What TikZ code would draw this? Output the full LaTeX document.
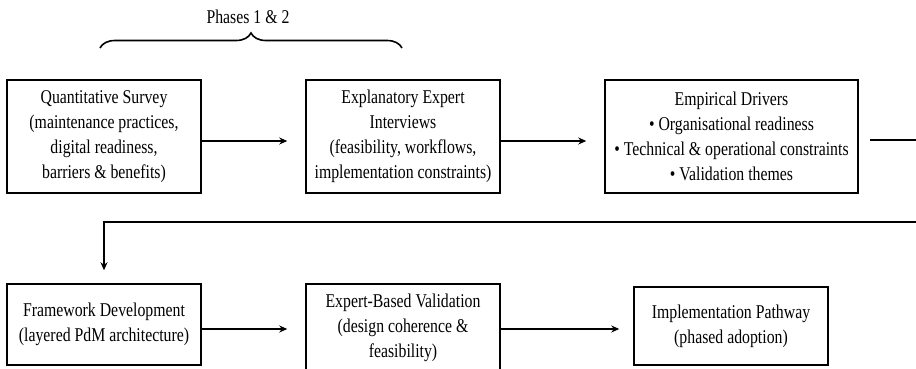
\documentclass[tikz,border=0pt]{standalone}
\usepackage{fontspec}
\setmainfont{Liberation Serif}[FakeStretch=0.81]
\usetikzlibrary{arrows.meta,decorations.pathreplacing}
\begin{document}
\begin{tikzpicture}[x=1pt,y=1pt,
  stagebox/.style={draw, line width=1.5pt, align=center, inner sep=0pt,
    font=\fontsize{19.5}{25}\selectfont, anchor=center},
  flow/.style={line width=1.5pt, -{Stealth[length=8pt,width=7pt]}},
  plainline/.style={line width=1.5pt}]
\useasboundingbox (0,0) rectangle (916,-368);
\clip (0,0) rectangle (916,-368);
\node[stagebox, minimum width=194pt, minimum height=113pt] (b1) at (104,-136.5)
  {Quantitative Survey\\(maintenance practices,\\digital readiness,\\barriers \& benefits)};
\node[stagebox, minimum width=194pt, minimum height=113pt] (b2) at (403,-136.5)
  {Explanatory Expert\\Interviews\\(feasibility, workflows,\\implementation constraints)};
\node[stagebox, minimum width=253pt, minimum height=113pt] (b3) at (731.5,-136.5)
  {Empirical Drivers\\• Organisational readiness\\• Technical \& operational constraints\\• Validation themes};
\node[stagebox, minimum width=194pt, minimum height=81pt] (b4) at (104,-324.5)
  {Framework Development\\(layered PdM architecture)};
\node[stagebox, minimum width=194pt, minimum height=88pt] (b5) at (403,-328)
  {Expert-Based Validation\\(design coherence \&\\feasibility)};
\node[stagebox, minimum width=194pt, minimum height=78pt] (b6) at (731,-326)
  {Implementation Pathway\\(phased adoption)};
\coordinate (outA) at (916,-140);
\coordinate (inA) at (916,-222);
\coordinate (brL) at (100,-48);
\coordinate (brR) at (402,-48);
\draw[line width=1.6pt, decorate,
  decoration={brace, amplitude=15pt}] (brL) -- (brR);
\node[font=\fontsize{19.5}{25}\selectfont] (ph) at (248,-17) {Phases 1 \& 2};
\draw[flow, shorten >=18pt] ([yshift=-4.5pt]b1.east) -- ([yshift=-4.5pt]b2.west);
\draw[flow, shorten >=18pt] ([yshift=-4.5pt]b2.east) -- ([yshift=-4.5pt]b3.west);
\draw[plainline, shorten <=11pt] ([yshift=-3.5pt]b3.east) -- (outA);
\draw[flow, shorten >=13pt] (inA) -| (b4.north);
\draw[flow, shorten >=18pt] ([yshift=-4.5pt]b4.east) -- ([yshift=-4.5pt]b4.east -| b5.west);
\draw[flow, shorten >=14pt] ([yshift=-1pt]b5.east) -- ([yshift=-1pt]b5.east -| b6.west);
\end{tikzpicture}
\end{document}
